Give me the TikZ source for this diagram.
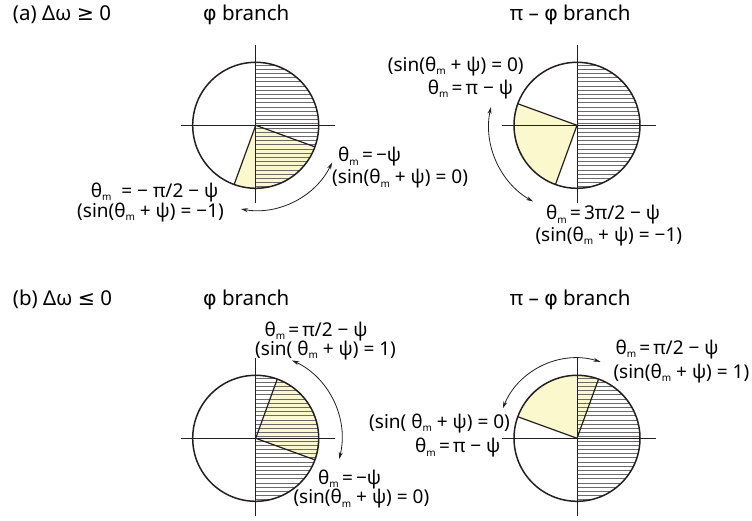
\documentclass[tikz,border=0pt]{standalone}
\usepackage{fontspec}
\setmainfont{Noto Sans}
\newfontfamily\symfont{DejaVu Sans}
\usepackage{tikz}
\usetikzlibrary{arrows.meta,calc}
\definecolor{ink}{HTML}{231F20}
\definecolor{paleyel}{HTML}{FCF8CE}
\definecolor{hatchgray}{HTML}{6A6A6A}
\newcommand{\thm}{θ\raisebox{-0.3ex}{\fontsize{10}{10}\selectfont m}}
\newcommand{\phig}{{\symfont φ}}

\begin{document}
\begin{tikzpicture}[x=1pt,y=1pt,>={Stealth[length=7pt,width=4pt]},
 ttl/.style={inner sep=0pt,font=\fontsize{20.5}{24}\selectfont},
 lbl/.style={inner sep=0pt,anchor=west,font=\fontsize{19}{22}\selectfont},
 rim/.style={line width=1.5pt,draw=ink},
 edge/.style={line width=1.2pt,draw=ink},
 ax/.style={line width=0.9pt,draw=ink},
 hatch/.style={line width=0.6pt,draw=hatchgray},
 ar/.style={<->,line width=0.8pt,draw=ink}]
 \useasboundingbox (0,0) rectangle (752,521);
 % discs: centre, then start and end of the pale sector
 \foreach \cx/\cy/\ya/\yb [count=\k] in {255.7/395.7/-110/-20,577/395.7/160/250,255.7/82.7/-20/70,577/82.7/70/160}{
  \coordinate (c\k) at (\cx,\cy);
  \fill[paleyel] (c\k) -- ++(\ya:63) arc[start angle=\ya,end angle=\yb,radius=63pt] -- cycle;
  \begin{scope}
   \clip (c\k) circle[radius=63pt];
   \foreach \h in {-61.5,-57.3,...,62}
    \draw[hatch] ($(c\k)+(0,\h)$) -- ++(64,0);
  \end{scope}
  \draw[edge] (c\k) -- ++(\ya:63) (c\k) -- ++(\yb:63);
  \draw[rim] (c\k) circle[radius=63pt];
  \draw[ax] ($(c\k)+(-75,0)$) -- ++(154,0);
  \draw[ax] ($(c\k)+(0,-78)$) -- ++(0,158);
 }
 % titles
 \node[ttl,anchor=base west] (tagA) at (12.7,500.3) {(a) Δω {\symfont ≥} 0};
 \node[ttl,anchor=base] (phiA) at (246.3,500.3) {\phig{} branch};
 \node[ttl,anchor=base] (piA) at (570.2,500.3) {π – \phig{} branch};
 \node[ttl,anchor=base west] (tagB) at (12.7,215) {(b) Δω {\symfont ≤} 0};
 \node[ttl,anchor=base] (phiB) at (246.3,215) {\phig{} branch};
 \node[ttl,anchor=base] (piB) at (570.2,215) {π – \phig{} branch};
 % (a) labels
 \node[lbl] (l1a) at (338,364) {\thm\,=\,−ψ};
 \node[lbl] (l1b) at (332,342) {(sin(\thm{} + ψ) = 0)};
 \node[lbl] (l1c) at (90.7,328.3) {\thm{}~ = − π/2 − ψ};
 \node[lbl] (l1d) at (77,308.7) {(sin(\thm{} + ψ) = −1)};
 \node[lbl] (l2a) at (387.7,454.3) {(sin(\thm{} + ψ) = 0)};
 \node[lbl] (l2b) at (427.7,431.7) {\thm\,=\,π − ψ};
 \node[lbl] (l2c) at (546,306) {\thm\,=\,3π/2 − ψ};
 \node[lbl] (l2d) at (535.3,284.3) {(sin(\thm{} + ψ) = −1)};
 % (b) labels
 \node[lbl] (l3a) at (264.3,189.3) {\thm\,=\,π/2 − ψ};
 \node[lbl] (l3b) at (255,170.3) {(sin( \thm{} + ψ) = 1)};
 \node[lbl] (l3c) at (318,41.7) {\thm\,=\,−ψ};
 \node[lbl] (l3d) at (293.3,22) {(sin(\thm{} + ψ) = 0)};
 \node[lbl] (l4a) at (615.3,171.7) {\thm\,=\,π/2 − ψ};
 \node[lbl] (l4b) at (613.3,147.7) {(sin(\thm{} + ψ) = 1)};
 \node[lbl] (l4c) at (369,97.5) {(sin( \thm{} + ψ) = 0)};
 \node[lbl] (l4d) at (415,73) {\thm\,=\,π − ψ};
 % swing arrows
 \coordinate (a1) at ($(c1)+(-26:85)$);
 \draw[ar] (a1) arc[start angle=-26,end angle=-100,radius=85pt];
 \coordinate (a2) at ($(c2)+(168:88)$);
 \draw[ar] (a2) arc[start angle=168,end angle=240,radius=88pt];
 \coordinate (a3) at ($(c3)+(65:86)$);
 \draw[ar] (a3) arc[start angle=65,end angle=-14,radius=86pt];
 \coordinate (a4) at ($(c4)+(73:80)$);
 \draw[ar] (a4) arc[start angle=73,end angle=158,radius=80pt];
\end{tikzpicture}
\end{document}
